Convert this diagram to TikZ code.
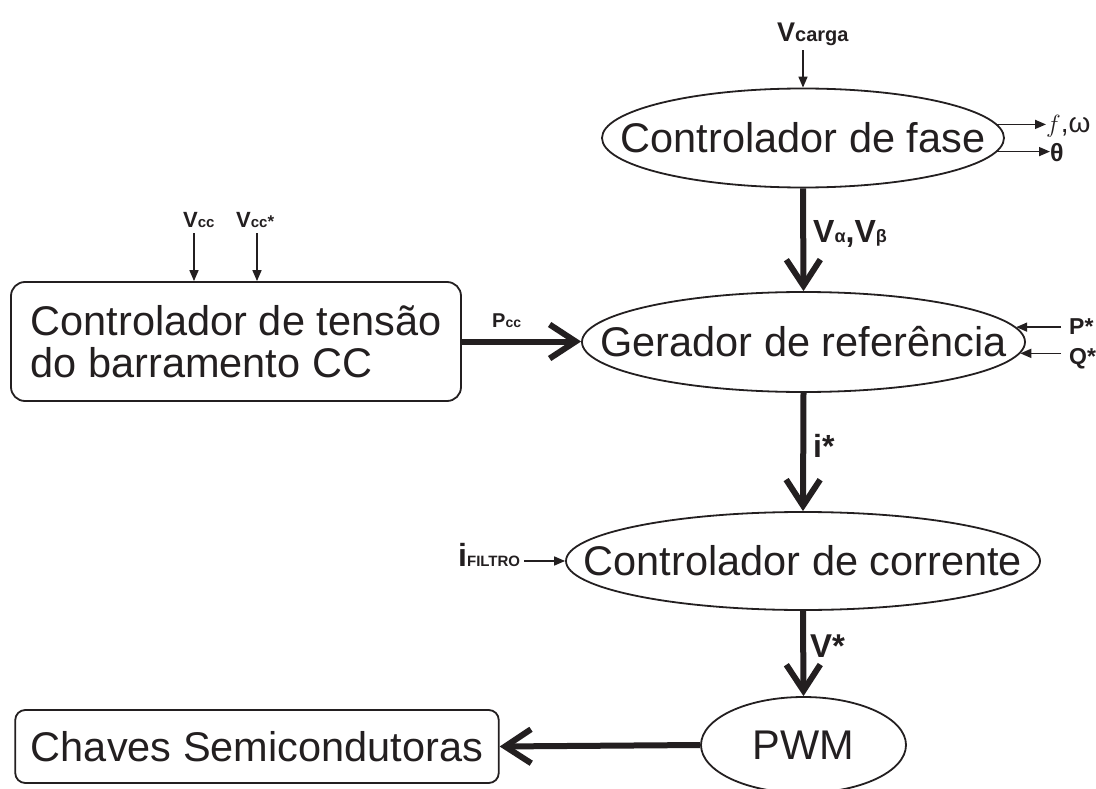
\documentclass[tikz,border=0pt]{standalone}
\usepackage{fontspec}
\setmainfont{Liberation Sans}
\usetikzlibrary{shapes.geometric,arrows.meta}
\newcommand\fsz[1]{\fontsize{#1}{#1}\selectfont}
\definecolor{ink}{HTML}{231F20}
\begin{document}
\begin{tikzpicture}[x=1pt,y=-1pt,
  ell/.style={draw=ink, ellipse, line width=1.8pt, inner sep=0pt},
  rbox/.style={draw=ink, rounded corners=14pt, line width=1.8pt, inner sep=0pt},
  smallarrow/.style={draw=ink, line width=1.6pt, -{Triangle[length=11pt,width=9pt]}},
  bigarrow/.style={draw=ink, line width=6pt, -{Straight Barb[length=26pt,width=34pt,line width=6pt]}},
  maintext/.style={font=\fsz{41.5}, text=ink, inner sep=0pt, text height=29.7pt, text depth=0pt},
  lbl/.style={font=\bfseries, text=ink, inner sep=0pt, anchor=base west}]

\useasboundingbox (0,0) rectangle (1096,789);

% main blocks
\node[ell, minimum width=402pt, minimum height=99pt] (fase) at (803,138) {};
\node[maintext] (tfase) at (fase.center) {Controlador de fase};

\node[ell, minimum width=443pt, minimum height=100pt] (ger) at (803.5,342) {};
\node[maintext] (tger) at (ger.center) {Gerador de referência};

\node[ell, minimum width=474pt, minimum height=98pt] (cor) at (803,561) {};
\node[maintext] (tcor) at (cor.center) {Controlador de corrente};

\node[ell, minimum width=205pt, minimum height=96pt] (pwm) at (803.5,745) {};
\node[maintext] (tpwm) at (pwm.center) {PWM};

\node[rbox, minimum width=450pt, minimum height=119pt] (tensao) at (236,341.5) {};
\node[font=\fsz{41.5}, text=ink, inner sep=0pt, align=left] (ttensao) at (tensao.center)
  {\fontsize{41.5}{46}\selectfont Controlador de tensão\\ do barramento CC};

\node[rbox, rounded corners=10pt, minimum width=483.5pt, minimum height=73pt] (chaves) at (257,746.5) {};
\node[maintext] (tchaves) at (chaves.center) {Chaves Semicondutoras};

% labels
\node[lbl] (vcarga) at (777,42) {{\fsz{27}V}{\fsz{20}carga}};
\node[lbl, font=\mdseries] (fw) at (1046,133) {\fsz{28}$f$,ω};
\node[lbl] (theta) at (1050,162) {\fsz{25}θ};
\node[lbl] (valbe) at (813,242) {{\fsz{32}V}{\fsz{18}α}{\fsz{32},V}{\fsz{18}β}};
\node[lbl] (pstar) at (1069,334) {\fsz{23}P*};
\node[lbl] (qstar) at (1069,364) {\fsz{23}Q*};
\node[lbl] (istar) at (813,457) {\fsz{32}i*};
\node[lbl] (vstar) at (810,657) {\fsz{33}V*};
\node[lbl] (ifil) at (458,566) {{\fsz{32}i}{\fsz{15}FILTRO}};
\node[lbl] (vcc) at (183,227) {{\fsz{22}V}{\fsz{15}cc}};
\node[lbl] (vccs) at (236,227) {{\fsz{22}V}{\fsz{15}cc}{\fsz{17}*}};
\node[lbl] (pcc) at (492,327) {{\fsz{20}P}{\fsz{14}cc}};

% thick connectors
\draw[bigarrow] (fase.south) -- (ger.north);
\draw[bigarrow] (ger.south) -- (cor.north);
\draw[bigarrow] (cor.south) -- (pwm.north);
\draw[bigarrow] (pwm.west) -- (chaves.east);
\draw[bigarrow] (tensao.east) -- (tensao.east -| ger.west);

% thin connectors
\draw[smallarrow, shorten <=4pt] (vcarga.south -| fase.north) -- (fase.north);
\draw[smallarrow] (fase.4.4) -- (fase.4.4 -| fw.west);
\draw[smallarrow] (fase.-4.4) -- (fase.-4.4 -| theta.west);
\draw[smallarrow, shorten <=8pt] (pstar.west |- ger.4.36) -- (ger.4.36);
\draw[smallarrow, shorten <=8pt] (qstar.west |- ger.-3.77) -- (ger.-3.77);
\draw[smallarrow, shorten <=4pt] (ifil.east |- cor.west) -- (cor.west);
\draw[smallarrow, shorten <=6pt] ([xshift=11pt]vcc.south west) -- ([xshift=11pt]vcc.south west |- tensao.north);
\draw[smallarrow, shorten <=6pt] ([xshift=21pt]vccs.south west) -- ([xshift=21pt]vccs.south west |- tensao.north);
\end{tikzpicture}
\end{document}
